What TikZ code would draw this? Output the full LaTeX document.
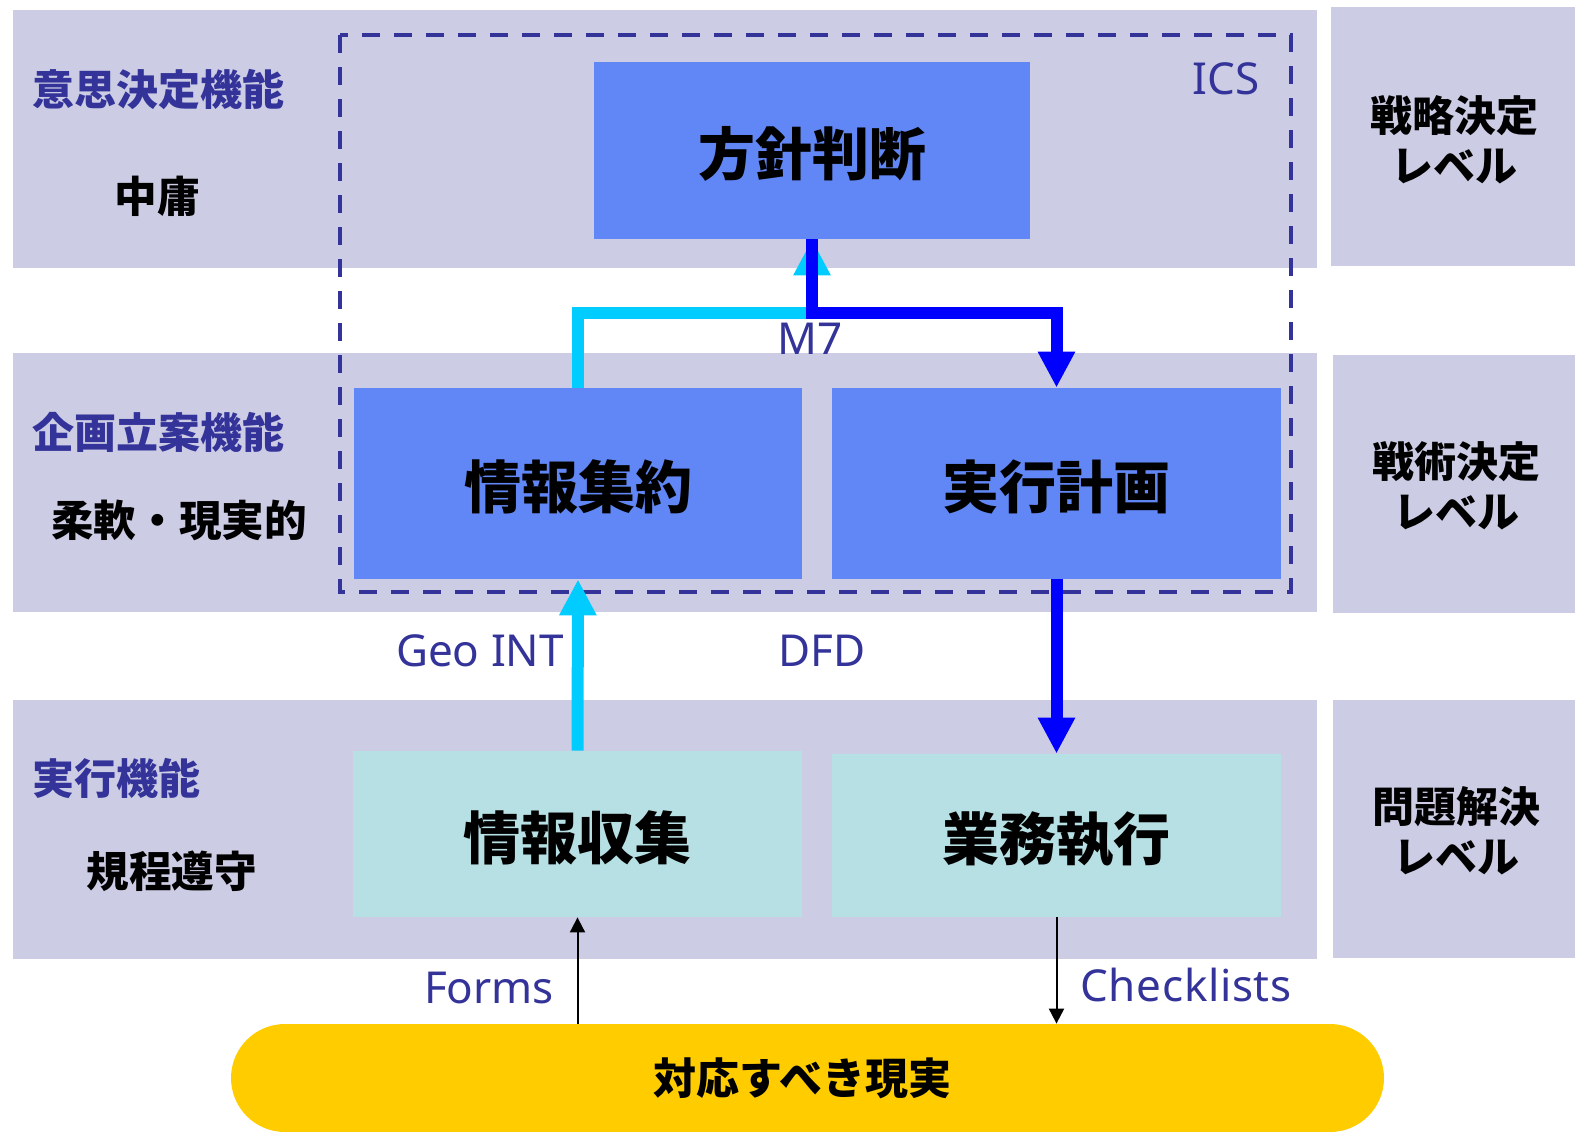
\documentclass[tikz,border=0pt]{standalone}
\usepackage{fontspec}
\setmainfont{Noto Sans}
\newfontfamily\cjk{Noto Sans CJK JP}
\usetikzlibrary{arrows.meta}
\definecolor{bandc}{RGB}{204,205,229}
\definecolor{boxc}{RGB}{97,135,246}
\definecolor{tealc}{RGB}{183,224,228}
\definecolor{goldc}{RGB}{255,204,0}
\definecolor{navyc}{RGB}{51,51,153}
\definecolor{cyanc}{RGB}{0,204,255}
\definecolor{bluec}{RGB}{0,0,255}
\tikzset{
  band/.style={fill=bandc},
  boxfont/.style={font=\cjk\bfseries\fontsize{28.5}{30}\selectfont, text height=27pt, text depth=2pt},
  mainbox/.style={fill=boxc, inner sep=0pt, boxfont},
  execbox/.style={fill=tealc, inner sep=0pt, boxfont},
  funclabel/.style={anchor=west, inner sep=0pt, text=navyc, font=\cjk\bfseries\fontsize{21}{24}\selectfont},
  sublabel/.style={inner sep=0pt, text=black, font=\cjk\bfseries\fontsize{21.3}{24}\selectfont},
  levellabel/.style={inner sep=0pt, align=center, text=black, font=\cjk\bfseries\fontsize{21}{25}\selectfont},
  toollabel/.style={inner sep=0pt, text=navyc, font=\fontsize{22}{24}\selectfont},
  cyanarrow/.style={draw=cyanc, line width=6pt, line join=miter, -{Triangle[width=17.5pt,length=18pt]}},
  bluearrow/.style={draw=bluec, line width=6pt, line join=miter, -{Triangle[width=17.5pt,length=18pt]}},
  thinarrow/.style={draw=black, line width=1pt, -{Triangle[width=7.5pt,length=7.5pt]}},
}
\begin{document}
\begin{tikzpicture}[x=0.5pt,y=-0.5pt]
\useasboundingbox (0,0) rectangle (1575,1131);
% bands
\path[band] (13,10) rectangle (1317,268);
\path[band] (13,353) rectangle (1317,612);
\path[band] (13,700) rectangle (1317,959);
\path[band] (1331,7) rectangle (1575,266);
\path[band] (1333,355) rectangle (1575,613);
\path[band] (1333,700) rectangle (1575,958);
% dashed ICS frame
\draw[navyc, line width=2.2pt, dash pattern=on 9pt off 7pt] (340,35) rectangle (1291,592);
% boxes
\node[mainbox, minimum width=218pt, minimum height=88.5pt] (hh) at (812,150.5) {方針判断};
\node[mainbox, minimum width=224pt, minimum height=95.5pt] (jy) at (578,483.5) {情報集約};
\node[mainbox, minimum width=224.5pt, minimum height=95.5pt] (jk) at (1056.5,483.5) {実行計画};
\node[execbox, minimum width=224.5pt, minimum height=83pt] (jc) at (577.5,834) {情報収集};
\node[execbox, minimum width=224.5pt, minimum height=81.5pt] (gs) at (1056.5,835.5) {業務執行};
\node[fill=goldc, rounded corners=27pt, minimum width=576.5pt, minimum height=54pt, inner sep=0pt,
      font=\cjk\bfseries\fontsize{21.5}{24}\selectfont] (gen) at (807.5,1078) {\raisebox{1.5pt}{対応すべき現実}\hspace*{5pt}};
% left labels
\node[funclabel] (f1) at (32,90) {意思決定機能};
\node[sublabel] (s1) at (157,196) {中庸};
\node[funclabel] (f2) at (32,432) {企画立案機能};
\node[sublabel] (s2) at (179,520) {柔軟・現実的};
\node[funclabel] (f3) at (32,778) {実行機能};
\node[sublabel] (s3) at (172,871) {規程遵守};
% right labels
\node[levellabel] (l1) at (1454,140) {戦略決定\\レベル};
\node[levellabel] (l2) at (1456,486) {戦術決定\\レベル};
\node[levellabel] (l3) at (1456,831) {問題解決\\レベル};
% tool labels
\node[toollabel] (ics) at (1226,79) {ICS};
\node[toollabel] (m7) at (810,339) {M7};
\node[toollabel] (geo) at (480,651) {Geo INT};
\node[toollabel] (dfd) at (822,651) {DFD};
\node[toollabel] (forms) at (489,988) {Forms};
\node[toollabel] (chk) at (1186,985) {\addfontfeature{LetterSpace=1.5}Checklists};
% connectors
\coordinate (mid) at (812,313);
\draw[cyanarrow] (jy.north) |- (mid) -- (hh.south);
\draw[bluearrow] (hh.south) -- (mid) -| (jk.north);
\draw[cyanarrow] (jc.north) -- (jy.south);
\draw[bluearrow] (jk.south) -- (gs.north);
\draw[thinarrow] (jc.south |- gen.north) -- (jc.south);
\draw[thinarrow] (gs.south) -- (gs.south |- gen.north);
\end{tikzpicture}
\end{document}
